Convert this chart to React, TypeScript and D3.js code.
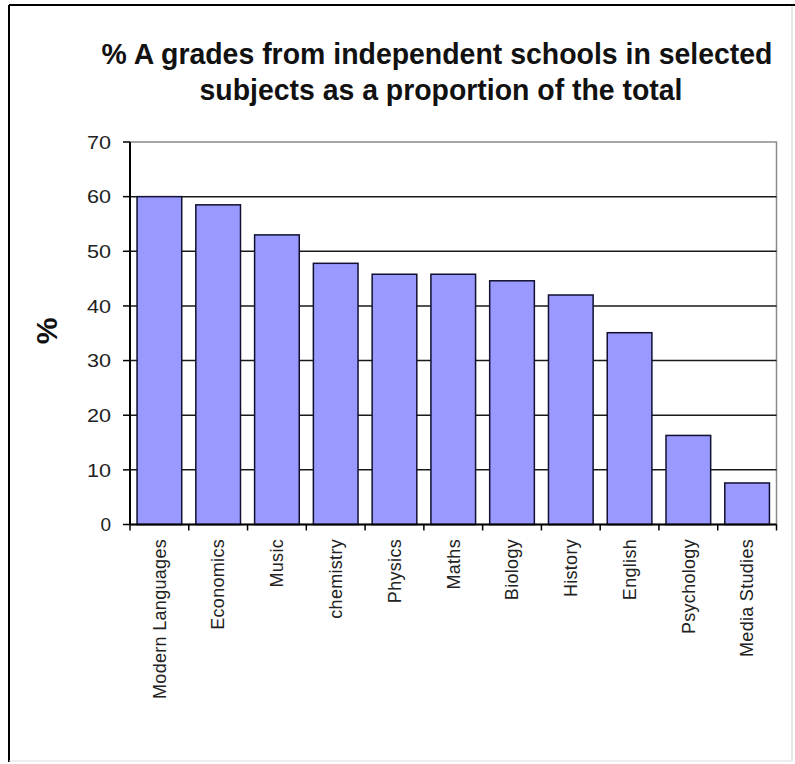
import React from "react";
import * as d3 from "d3";

const categories = [
  "Modern Languages",
  "Economics",
  "Music",
  "chemistry",
  "Physics",
  "Maths",
  "Biology",
  "History",
  "English",
  "Psychology",
  "Media Studies",
];
const values = [60, 58.5, 53, 47.8, 45.8, 45.8, 44.6, 42, 35.1, 16.3, 7.6];
const yTicks = [0, 10, 20, 30, 40, 50, 60, 70];
const titleLines = [
  "% A grades from independent schools in selected",
  "subjects as a proportion of the total",
];

export default function App() {
  const W = 795;
  const H = 764;
  const left = 130;
  const right = 776.5;
  const top = 142;
  const bottom = 524.5;

  const x = d3
    .scaleBand<string>()
    .domain(categories)
    .range([left, right])
    .paddingInner(0.24)
    .paddingOuter(0.12);
  const y = d3.scaleLinear().domain([0, 70]).range([bottom, top]);
  const step = x.step();
  const off = (step - x.bandwidth()) / 2;
  const boundaries = categories.map((c) => (x(c) as number) - off);
  boundaries.push(right);

  const font = "Arial, 'Liberation Sans', Helvetica, sans-serif";

  return (
    <svg
      width={W}
      height={H}
      style={{ position: "absolute", left: 0, top: 0, background: "#fff" }}
      fontFamily={font}
    >
      <rect x={0} y={0} width={W} height={H} fill="#fff" />
      {/* outer frame */}
      <line x1={9} y1={5} x2={795} y2={5} stroke="#000" strokeWidth={2} />
      <line x1={9} y1={5} x2={9} y2={762} stroke="#000" strokeWidth={2} />
      <line x1={792} y1={6} x2={792} y2={761} stroke="#ccc" strokeWidth={1} />
      <line x1={9} y1={761} x2={792} y2={761} stroke="#ddd" strokeWidth={1} />

      {/* title */}
      <text
        x={437}
        y={64}
        textAnchor="middle"
        fontWeight="bold"
        fontSize={29}
        fill="#111"
        textLength={671}
        lengthAdjust="spacingAndGlyphs"
      >
        {titleLines[0]}
      </text>
      <text
        x={441}
        y={100}
        textAnchor="middle"
        fontWeight="bold"
        fontSize={29}
        fill="#111"
        textLength={483}
        lengthAdjust="spacingAndGlyphs"
      >
        {titleLines[1]}
      </text>

      {/* plot border */}
      <rect
        x={left}
        y={top}
        width={right - left}
        height={bottom - top}
        fill="none"
        stroke="#8a8a8a"
        strokeWidth={1.5}
      />

      {/* gridlines */}
      {yTicks
        .filter((t) => t > 0 && t < 70)
        .map((t) => (
          <line
            key={"g" + t}
            x1={left}
            x2={right}
            y1={y(t)}
            y2={y(t)}
            stroke="#1a1a1a"
            strokeWidth={1.5}
          />
        ))}

      {/* bars */}
      {categories.map((c, i) => (
        <rect
          key={c}
          x={x(c)}
          y={y(values[i])}
          width={x.bandwidth()}
          height={bottom - y(values[i])}
          fill="#9999ff"
          stroke="#101030"
          strokeWidth={1.5}
        />
      ))}

      {/* axes */}
      <line x1={left} x2={left} y1={top} y2={bottom} stroke="#000" strokeWidth={2} />
      <line x1={left - 1} x2={right} y1={bottom} y2={bottom} stroke="#000" strokeWidth={2} />

      {/* y ticks */}
      {yTicks.map((t) => (
        <g key={"yt" + t}>
          <line x1={left - 7} x2={left} y1={y(t)} y2={y(t)} stroke="#000" strokeWidth={1.5} />
          <text
            x={111}
            y={y(t)}
            dy="0.35em"
            textAnchor="end"
            fontSize={19}
            fill="#222"
            textLength={t === 0 ? undefined : 24}
            lengthAdjust="spacingAndGlyphs"
          >
            {t}
          </text>
        </g>
      ))}

      {/* x ticks */}
      {boundaries.map((b, i) => (
        <line key={"xt" + i} x1={b} x2={b} y1={bottom} y2={bottom + 6} stroke="#000" strokeWidth={1.5} />
      ))}

      {/* x labels */}
      {categories.map((c) => {
        const cx = (x(c) as number) + x.bandwidth() / 2;
        return (
          <text
            key={"xl" + c}
            transform={`translate(${cx},539) rotate(-90)`}
            textAnchor="end"
            dy="0.35em"
            fontSize={18}
            letterSpacing={0.3}
            fill="#222"
          >
            {c}
          </text>
        );
      })}

      {/* y label */}
      <text
        transform={`translate(46,331) rotate(-90)`}
        textAnchor="middle"
        dy="0.35em"
        fontWeight="bold"
        fontSize={30}
        fill="#111"
      >
        %
      </text>
    </svg>
  );
}
